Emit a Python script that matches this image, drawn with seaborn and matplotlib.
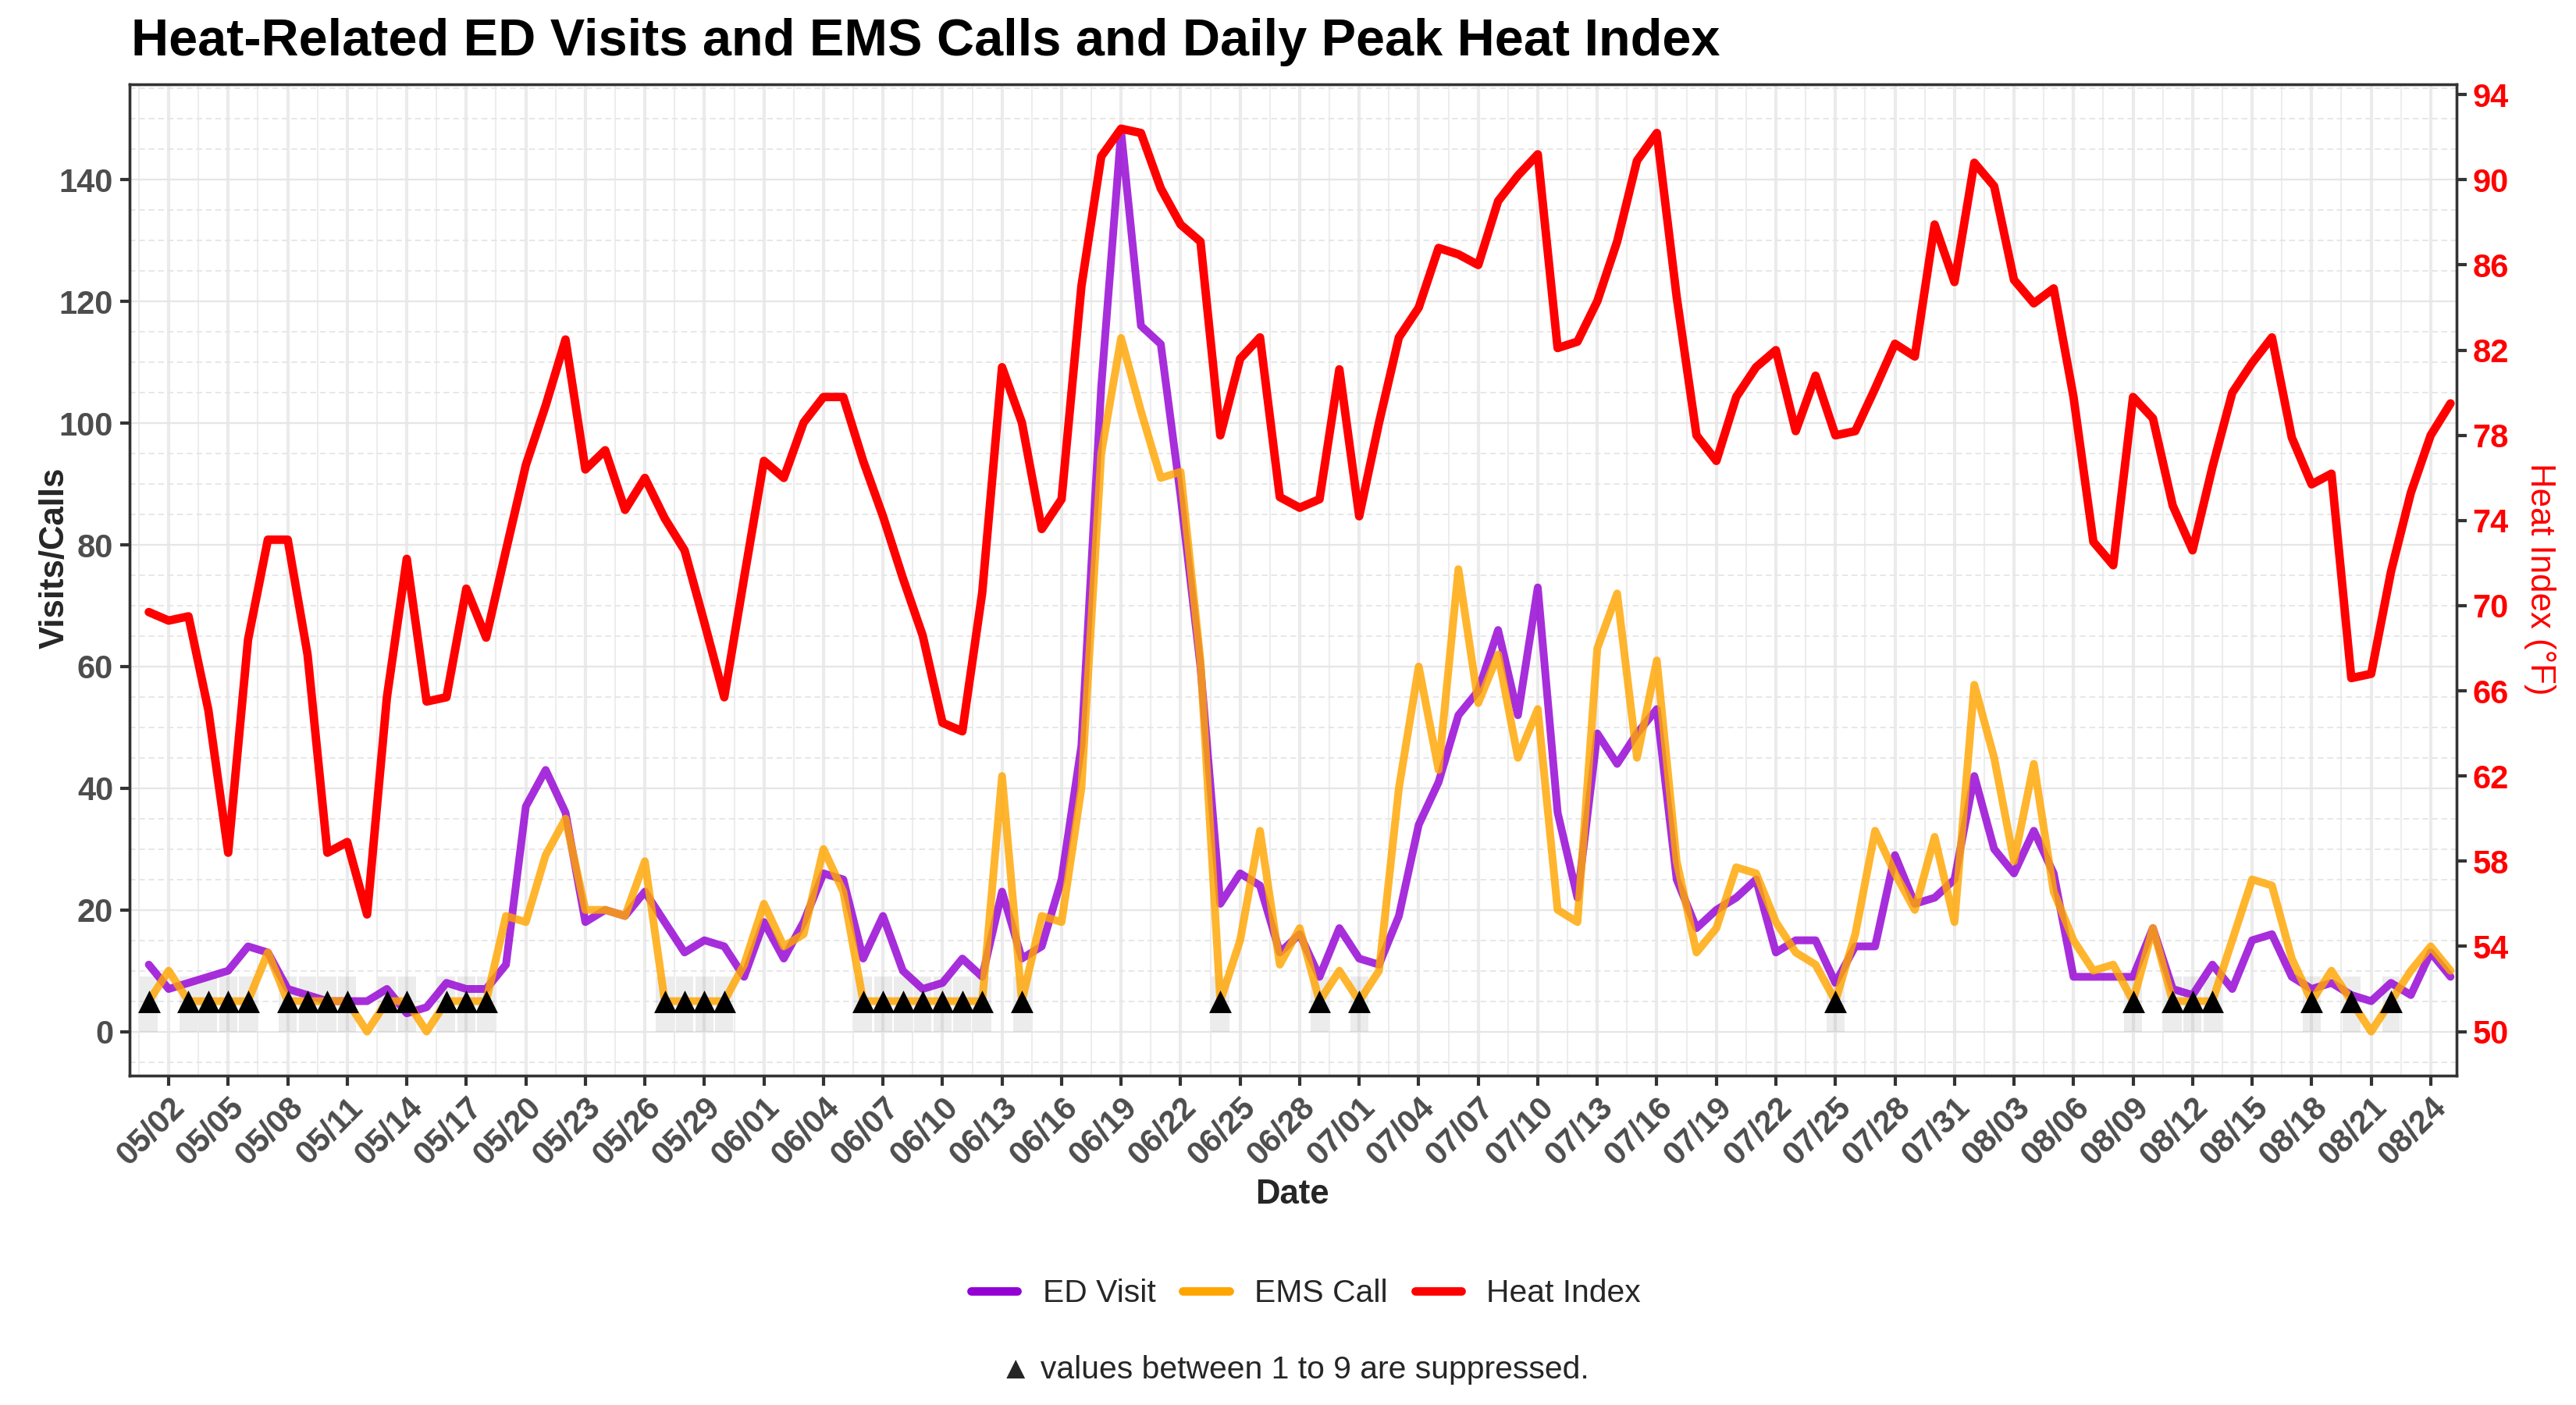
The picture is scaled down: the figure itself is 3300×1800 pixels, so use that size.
import pandas as pd
import matplotlib
matplotlib.use("Agg")
import matplotlib.pyplot as plt
import matplotlib.dates as mdates
from matplotlib.lines import Line2D
from matplotlib.ticker import FixedLocator, MultipleLocator
import seaborn as sns

# daily values, 05/01 - 08/25
dates = pd.date_range("2024-05-01", "2024-08-25", freq="D")

ed_visits = [11, 7, 8, 9, 10, 14, 13, 7, 6, 5, 5, 5, 7, 3, 4, 8, 7, 7, 11, 37,
             43, 36, 18, 20, 19, 23, 18, 13, 15, 14, 9, 18, 12, 18, 26, 25, 12, 19, 10, 7,
             8, 12, 9, 23, 12, 14, 25, 47, 106, 148, 116, 113, 88, 60, 21, 26, 24, 13, 16, 9,
             17, 12, 11, 19, 34, 41, 52, 56, 66, 52, 73, 36, 22, 49, 44, 49, 53, 25, 17, 20,
             22, 25, 13, 15, 15, 8, 14, 14, 29, 21, 22, 25, 42, 30, 26, 33, 26, 9, 9, 9,
             9, 17, 7, 6, 11, 7, 15, 16, 9, 7, 8, 6, 5, 8, 6, 13, 9]

# None = suppressed (1 to 9)
ems_calls = [None, 10, None, None, None, None, 13, None, None, None, None, 0, None, None, 0, None, None, None, 19, 18,
             29, 35, 20, 20, 19, 28, None, None, None, None, 11, 21, 14, 16, 30, 23, None, None, None, None,
             None, None, None, 42, None, 19, 18, 40, 95, 114, 102, 91, 92, 61, None, 15, 33, 11, 17, None,
             10, None, 10, 40, 60, 43, 76, 54, 62, 45, 53, 20, 18, 63, 72, 45, 61, 28, 13, 17,
             27, 26, 18, 13, 11, None, 16, 33, 26, 20, 32, 18, 57, 45, 28, 44, 23, 15, 10, 11,
             None, 17, None, None, None, 15, 25, 24, 12, None, 10, None, 0, None, 10, 14, 10]

heat_index = [69.7, 69.3, 69.5, 65.1, 58.4, 68.4, 73.1, 73.1, 67.7, 58.4, 58.9, 55.5, 65.7, 72.2, 65.5, 65.7, 70.8, 68.5, 72.6, 76.6,
              79.4, 82.5, 76.4, 77.3, 74.5, 76.0, 74.1, 72.6, 69.2, 65.7, 71.3, 76.8, 76.0, 78.6, 79.8, 79.8, 76.8, 74.2, 71.3, 68.6,
              64.5, 64.1, 70.6, 81.2, 78.6, 73.6, 75.0, 85.0, 91.1, 92.4, 92.2, 89.6, 87.9, 87.1, 78.0, 81.6, 82.6, 75.1, 74.6, 75.0,
              81.1, 74.2, 78.6, 82.6, 84.0, 86.8, 86.5, 86.0, 89.0, 90.2, 91.2, 82.1, 82.4, 84.3, 87.1, 90.9, 92.2, 84.5, 78.0, 76.8,
              79.8, 81.2, 82.0, 78.2, 80.8, 78.0, 78.2, 80.2, 82.3, 81.7, 87.9, 85.2, 90.8, 89.7, 85.3, 84.2, 84.9, 79.8, 73.0, 71.9,
              79.8, 78.8, 74.7, 72.6, 76.5, 80.0, 81.4, 82.6, 77.9, 75.7, 76.2, 66.6, 66.8, 71.6, 75.3, 78.0, 79.5]

SUPPRESSED_LEVEL = 5
SUPPRESSED_MAX = 9
HI_BASE = 50
HI_SCALE = 3.5   # visits per degree F on the secondary axis

df = pd.DataFrame({"date": dates, "ed": ed_visits, "ems": ems_calls, "hi": heat_index})
df["ems"] = df["ems"].astype(float)
df["suppressed"] = df["ems"].isna()
df["ems_plot"] = df["ems"].fillna(SUPPRESSED_LEVEL)
sup = df[df.suppressed]

sns.set_theme(style="white")
plt.rcParams["font.family"] = ["Liberation Sans", "DejaVu Sans"]

C_ED = "#9400D3"
C_EMS = "#FFA500"
C_HI = "#FF0000"
TXT = "#4D4D4D"

fig = plt.figure(figsize=(11, 6), dpi=300)
ax = fig.add_axes([0.0503, 0.2344, 0.9033, 0.7056])

# grey boxes where calls are suppressed
ax.bar(sup["date"], SUPPRESSED_MAX, width=0.9, bottom=0, color="grey", alpha=0.15,
       linewidth=0, zorder=1)

sns.lineplot(data=df, x="date", y="ed", ax=ax, color=C_ED, lw=2.4, alpha=0.82, zorder=3, legend=False)
sns.lineplot(data=df, x="date", y="ems_plot", ax=ax, color=C_EMS, lw=2.4, alpha=0.82, zorder=4, legend=False)
ax.scatter(sup["date"], [SUPPRESSED_LEVEL] * len(sup), marker="^", s=48, color="black",
           linewidths=0, zorder=5)

ylo, yhi = -7.25, 155.7
ax.set_ylim(ylo, yhi)
x0 = mdates.date2num(dates[0]) - 0.97
x1 = mdates.date2num(dates[-1]) + 0.3
ax.set_xlim(x0, x1)

major_x = mdates.date2num(dates[1::3])
ax.set_xticks(major_x)
ax.xaxis.set_major_formatter(mdates.DateFormatter("%m/%d"))
ax.xaxis.set_minor_locator(FixedLocator(list(major_x - 1.5) + [major_x[-1] + 1.5]))
ax.set_yticks(range(0, 141, 20))
ax.yaxis.set_minor_locator(MultipleLocator(5))

ax.grid(which="major", axis="x", color="#EBEBEB", lw=1.0)
ax.grid(which="minor", axis="x", color="#EDEDED", lw=0.5)
ax.grid(which="major", axis="y", color="#E6E6E6", lw=0.55)
ax.grid(which="minor", axis="y", color="#E6E6E6", lw=0.45, ls=(0, (4, 2.5)))
ax.set_axisbelow(True)

ax.tick_params(which="minor", length=0)
ax.tick_params(axis="y", which="major", length=3, width=1.0, color="#333333", pad=2,
               labelsize=10, labelcolor=TXT, left=True)
ax.tick_params(axis="x", which="major", length=3, width=1.0, color="#333333", pad=2,
               labelsize=10, labelcolor=TXT, bottom=True)
for lab in ax.get_yticklabels():
    lab.set_fontweight("bold")
for lab in ax.get_xticklabels():
    lab.set_fontweight("bold")
    lab.set_rotation(45)
    lab.set_ha("right")
    lab.set_va("top")
    lab.set_rotation_mode("anchor")
ax.set_xlabel("")
ax.set_ylabel("")

for sp in ax.spines.values():
    sp.set_color("#333333")
    sp.set_linewidth(0.8)

# heat index on the secondary axis
ax2 = ax.twinx()
sns.lineplot(data=df, x="date", y="hi", ax=ax2, color=C_HI, lw=2.6, zorder=6, legend=False)
ax2.set_ylim(HI_BASE + ylo / HI_SCALE, HI_BASE + yhi / HI_SCALE)
ax2.set_xlim(x0, x1)
ax2.set_yticks(range(50, 95, 4))
ax2.grid(False)
ax2.tick_params(axis="y", length=3, width=1.0, color="#333333", pad=2, labelsize=10,
                labelcolor=C_HI, right=True)
for lab in ax2.get_yticklabels():
    lab.set_fontweight("bold")
ax2.set_ylabel("")
ax2.set_xlabel("")
for sp in ax2.spines.values():
    sp.set_color("#333333")
    sp.set_linewidth(0.8)

fig.text(0.0509, 0.9606, "Heat-Related ED Visits and EMS Calls and Daily Peak Heat Index",
         fontsize=16, fontweight="bold", color="black", ha="left", va="baseline")
fig.text(0.0212, 0.6028, "Visits/Calls", rotation=90, fontsize=10.5, fontweight="bold",
         ha="center", va="center")
fig.text(0.986, 0.5878, "Heat Index (°F)", rotation=270, fontsize=10.5, color=C_HI,
         ha="center", va="center")
fig.text(0.5017, 0.15, "Date", fontsize=10.5, fontweight="bold", ha="center", va="center")

handles = [Line2D([], [], color=C_ED, lw=2.6),
           Line2D([], [], color=C_EMS, lw=2.6),
           Line2D([], [], color=C_HI, lw=2.6)]
fig.legend(handles, ["ED Visit", "EMS Call", "Heat Index"], loc="center",
           bbox_to_anchor=(0.507, 0.0794), ncol=3, frameon=False, fontsize=9.8,
           handlelength=1.45, handletextpad=0.8, columnspacing=0.85)
fig.text(0.5025, 0.025, "▲ values between 1 to 9 are suppressed.", fontsize=9.8,
         ha="center", va="center")

fig.savefig("out.png", dpi=300)
